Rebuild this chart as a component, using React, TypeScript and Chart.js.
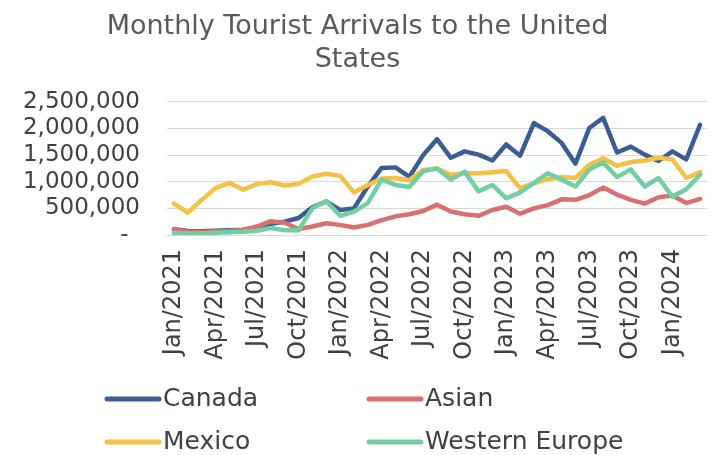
import React, { useEffect, useRef } from 'react';
import { Chart, registerables } from 'chart.js';

Chart.register(...registerables);

const TITLE = ['Monthly Tourist Arrivals to the United', 'States'];

const months = [
  'Jan/2021', 'Feb/2021', 'Mar/2021', 'Apr/2021', 'May/2021', 'Jun/2021',
  'Jul/2021', 'Aug/2021', 'Sep/2021', 'Oct/2021', 'Nov/2021', 'Dec/2021',
  'Jan/2022', 'Feb/2022', 'Mar/2022', 'Apr/2022', 'May/2022', 'Jun/2022',
  'Jul/2022', 'Aug/2022', 'Sep/2022', 'Oct/2022', 'Nov/2022', 'Dec/2022',
  'Jan/2023', 'Feb/2023', 'Mar/2023', 'Apr/2023', 'May/2023', 'Jun/2023',
  'Jul/2023', 'Aug/2023', 'Sep/2023', 'Oct/2023', 'Nov/2023', 'Dec/2023',
  'Jan/2024', 'Feb/2024', 'Mar/2024',
];

const canada = [
  110000, 75000, 70000, 80000, 90000, 100000, 140000, 210000, 250000, 320000, 520000, 630000,
  470000, 500000, 910000, 1260000, 1270000, 1090000, 1500000, 1800000, 1450000, 1570000, 1510000, 1400000,
  1700000, 1490000, 2100000, 1950000, 1730000, 1340000, 2010000, 2200000, 1550000, 1660000, 1510000, 1390000,
  1570000, 1420000, 2070000,
];

const asian = [
  100000, 65000, 55000, 65000, 75000, 95000, 160000, 260000, 230000, 110000, 160000, 220000,
  190000, 140000, 190000, 280000, 350000, 390000, 450000, 570000, 440000, 390000, 360000, 470000,
  530000, 400000, 500000, 560000, 670000, 660000, 750000, 890000, 760000, 660000, 590000, 710000,
  740000, 600000, 680000,
];

const mexico = [
  590000, 420000, 660000, 880000, 980000, 850000, 960000, 990000, 930000, 960000, 1100000, 1150000,
  1110000, 800000, 940000, 1060000, 1070000, 1030000, 1220000, 1250000, 1130000, 1160000, 1160000, 1180000,
  1200000, 880000, 970000, 1050000, 1090000, 1070000, 1320000, 1440000, 1300000, 1370000, 1400000, 1450000,
  1420000, 1070000, 1180000,
];

const westernEurope = [
  40000, 30000, 30000, 40000, 50000, 60000, 80000, 130000, 90000, 90000, 500000, 640000,
  360000, 440000, 600000, 1040000, 940000, 900000, 1200000, 1250000, 1040000, 1190000, 820000, 940000,
  690000, 800000, 980000, 1160000, 1040000, 910000, 1230000, 1360000, 1090000, 1230000, 910000, 1070000,
  720000, 860000, 1130000,
];

const seriesNames = ['Canada', 'Asian', 'Mexico', 'Western Europe'];
const seriesColors = ['#3B5E92', '#D8706F', '#F4C145', '#72CFA3'];

const Y_MIN = 0;
const Y_MAX = 2500000;
const Y_STEP = 500000;

const FONT = 'DejaVu Sans';

const legendPlugin = {
  id: 'gridLegend',
  afterDraw(chart: any) {
    const ctx = chart.ctx;
    const slots = [
      { x: 97, y: 391 },
      { x: 359, y: 391 },
      { x: 97, y: 434 },
      { x: 359, y: 434 },
    ];
    ctx.save();
    chart.data.datasets.forEach((ds: any, i: number) => {
      const s = slots[i];
      ctx.strokeStyle = ds.borderColor;
      ctx.lineWidth = 5;
      ctx.lineCap = 'round';
      ctx.beginPath();
      ctx.moveTo(s.x + 2, s.y);
      ctx.lineTo(s.x + 54, s.y);
      ctx.stroke();
      ctx.fillStyle = '#404040';
      ctx.font = `25px "${FONT}"`;
      ctx.textBaseline = 'middle';
      ctx.textAlign = 'left';
      ctx.fillText(ds.label, s.x + 58, s.y);
    });
    ctx.restore();
  },
};

export default function App() {
  const ref = useRef<HTMLCanvasElement | null>(null);

  useEffect(() => {
    if (!ref.current) return;
    const data = [canada, asian, mexico, westernEurope];
    const chart = new Chart(ref.current, {
      type: 'line',
      data: {
        labels: months,
        datasets: data.map((d, i) => ({
          label: seriesNames[i],
          data: d,
          borderColor: seriesColors[i],
          backgroundColor: seriesColors[i],
          borderWidth: 4.5,
          pointRadius: 0,
          pointHoverRadius: 0,
          tension: 0,
          borderJoinStyle: 'round' as const,
          borderCapStyle: 'round' as const,
          fill: false,
          order: 4 - i,
        })),
      },
      options: {
        responsive: false,
        animation: false,
        layout: { padding: { left: 0, right: 1, top: 0, bottom: 79 } },
        plugins: {
          legend: { display: false },
          tooltip: { enabled: false },
          title: {
            display: true,
            text: TITLE,
            color: '#595959',
            font: { family: FONT, size: 27, weight: 'normal', lineHeight: 1.22 },
            padding: { top: 3, bottom: 25 },
          },
        },
        scales: {
          x: {
            offset: true,
            grid: { display: false, drawTicks: false },
            border: { display: false },
            ticks: {
              autoSkip: false,
              minRotation: 90,
              maxRotation: 90,
              padding: 14,
              color: '#404040',
              font: { family: FONT, size: 24 },
              callback: (_v: any, i: number) => (i % 3 === 0 ? months[i] : ''),
            },
            afterFit: (scale: any) => {
              scale.height = 140;
              scale.paddingLeft = 0;
              scale.paddingRight = 0;
            },
          },
          y: {
            min: Y_MIN,
            max: Y_MAX,
            grid: { color: '#D9D9D9', lineWidth: 1, drawTicks: false },
            border: { display: false },
            ticks: {
              autoSkip: false,
              stepSize: Y_STEP,
              padding: 27,
              color: '#404040',
              font: { family: FONT, size: 23 },
              callback: (v: any) => (v === 0 ? '-\u2002' : Number(v).toLocaleString('en-US')),
            },
            afterFit: (scale: any) => {
              scale.width = 159;
            },
          },
        },
      },
      plugins: [legendPlugin],
    });
    return () => chart.destroy();
  }, []);

  return (
    <div style={{ position: 'absolute', left: 8, top: 8, width: 700, height: 446 }}>
      <canvas ref={ref} width={700} height={446} style={{ display: 'block' }} />
    </div>
  );
}
